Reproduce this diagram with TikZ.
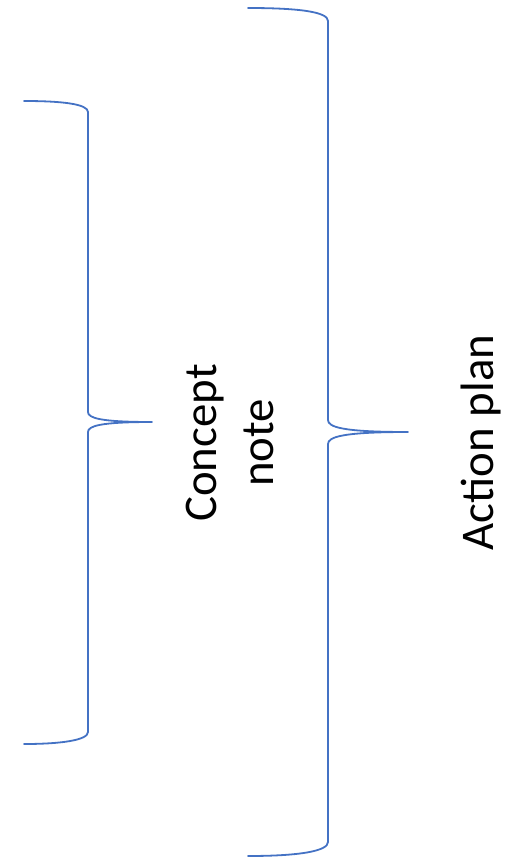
\documentclass[tikz,border=0pt]{standalone}
\usepackage{fontspec}
\setmainfont{Carlito}
\definecolor{braceblue}{HTML}{4472C4}
\begin{document}
\begin{tikzpicture}[x=1bp,y=-1bp,
  bracestyle/.style={draw=braceblue,line width=1.8bp,line cap=round,line join=round},
  labelstyle/.style={rotate=90,inner sep=0pt,font=\fontsize{47}{58}\selectfont}]
\useasboundingbox (0,0) rectangle (508,858);
% brace 1
\coordinate (b1top) at (24,101);
\coordinate (b1tip) at (152,422);
\coordinate (b1bot) at (24,744);
\draw[bracestyle] (b1top) .. controls (62,101) and (88,104) .. (88,112)
  -- (88,412) .. controls (88,418) and (100,422) .. (b1tip)
  .. controls (100,422) and (88,426) .. (88,432)
  -- (88,732) .. controls (88,740) and (62,744) .. (b1bot);
% brace 2
\coordinate (b2top) at (248,8);
\coordinate (b2tip) at (408,432);
\coordinate (b2bot) at (248,856);
\draw[bracestyle] (b2top) .. controls (300,8) and (328,12) .. (328,21)
  -- (328,420) .. controls (328,427) and (342,432) .. (b2tip)
  .. controls (342,432) and (328,437) .. (328,444)
  -- (328,842) .. controls (328,851) and (300,856) .. (b2bot);
% labels
\node[labelstyle,align=center] (concept) at (230,443) {Concept\\note};
\node[labelstyle,anchor=base] (action) at (493,442.5) {Action plan};
\end{tikzpicture}
\end{document}
